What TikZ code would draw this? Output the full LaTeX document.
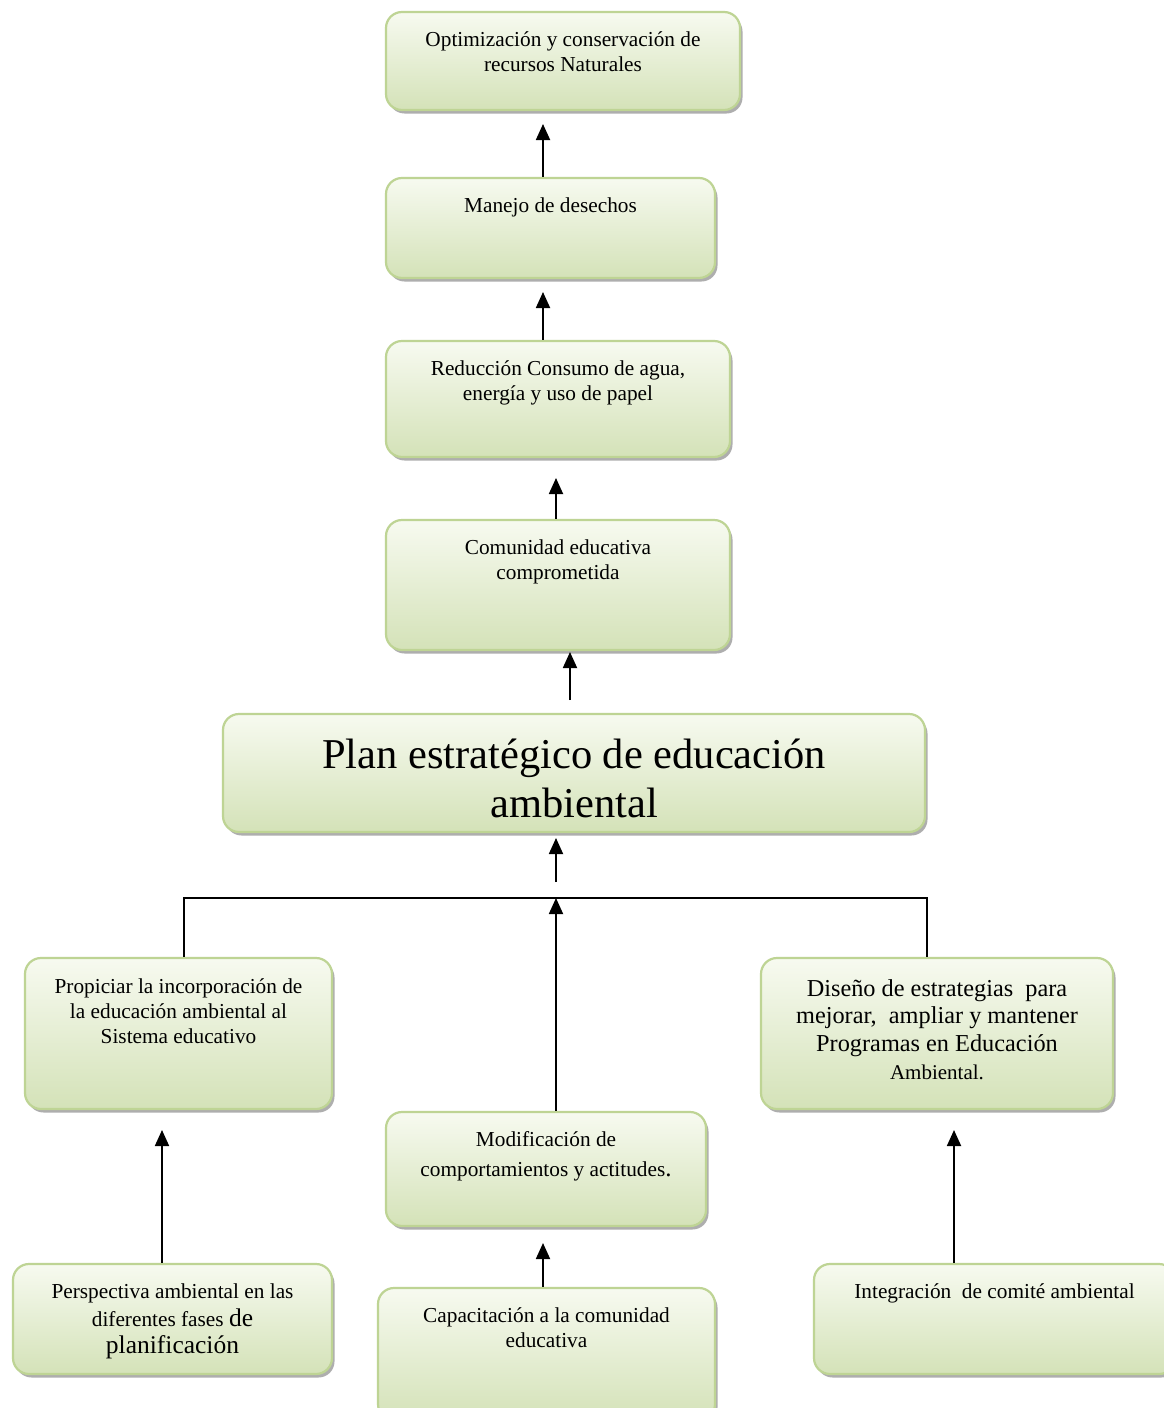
\documentclass[tikz,border=0pt]{standalone}
\usepackage{fontspec}
\setmainfont{Liberation Serif}
\usetikzlibrary{arrows.meta, shadows}

\definecolor{verdeborde}{RGB}{190,212,148}
\definecolor{verdeclaro}{RGB}{247,250,240}
\definecolor{verdeoscuro}{RGB}{212,226,184}

\tikzset{
  caja/.style={draw=verdeborde, line width=2.2pt, rounded corners=16pt,
    top color=verdeclaro, bottom color=verdeoscuro,
    drop shadow={shadow xshift=2.5pt, shadow yshift=-3.5pt, fill=black!45, opacity=.7}},
  texto/.style={anchor=north, align=center, inner sep=0pt, font=\fontsize{21.3}{24.8}\selectfont},
  flecha/.style={line width=1.8pt, -{Triangle[width=14pt,length=16pt]}},
  linea/.style={line width=1.6pt}
}

\begin{document}
\begin{tikzpicture}[x=1pt, y=-1pt]
	\useasboundingbox (0,0) rectangle (1163,1408);
	\fill[white] (0,0) rectangle (1163,1408);
	% cajas
	\node[caja, minimum width=354pt, minimum height=98pt] (opt) at (563,61) {};
	\node[caja, minimum width=329pt, minimum height=100pt] (man) at (550.5,228) {};
	\node[caja, minimum width=344pt, minimum height=116pt] (red) at (558,399) {};
	\node[caja, minimum width=344pt, minimum height=130pt] (com) at (558,585) {};
	\node[caja, minimum width=702pt, minimum height=118pt] (plan) at (574,773) {};
	\node[caja, minimum width=307pt, minimum height=151pt] (prop) at (178.5,1033.5) {};
	\node[caja, minimum width=352pt, minimum height=151pt] (dis) at (937,1033.5) {};
	\node[caja, minimum width=320pt, minimum height=114pt] (mod) at (546,1169) {};
	\node[caja, minimum width=319pt, minimum height=110pt] (per) at (172.5,1319) {};
	\node[caja, minimum width=337pt, minimum height=132pt] (cap) at (546.5,1354) {};
	\node[caja, minimum width=361pt, minimum height=110pt] (int) at (994.5,1319) {};
	% textos
	\node[texto] at ([yshift=-18.5pt]opt.north) {\strut Optimización y conservación de\\recursos Naturales};
	\node[texto] at ([yshift=-18.5pt]man.north) {\strut Manejo de desechos};
	\node[texto] at ([yshift=-18.5pt]red.north) {\strut Reducción Consumo de agua,\\energía y uso de papel};
	\node[texto] at ([yshift=-18.5pt]com.north) {\strut Comunidad educativa\\comprometida};
	\node[texto, font=\fontsize{42.5}{49}\selectfont] at ([yshift=-21pt]plan.north) {\strut Plan estratégico de educación\\ambiental};
	\node[texto] at ([yshift=-19.5pt]prop.north) {\strut Propiciar la incorporación de\\la educación ambiental al\\Sistema educativo};
	\node[texto, font=\fontsize{24.3}{27.8}\selectfont] at ([yshift=-19.5pt]dis.north) {\strut Diseño de estrategias\ \ para\\mejorar,\ \ ampliar y mantener\\Programas en Educación\\{\fontsize{21}{24}\selectfont Ambiental.}};
	\node[texto] at ([yshift=-18pt]mod.north) {\strut Modificación de\\[5pt]comportamientos y actitudes{\fontsize{25}{25}\selectfont .}};
	\node[texto] at ([yshift=-18pt]per.north) {\strut Perspectiva ambiental en las\\[2pt]diferentes fases {\fontsize{25.5}{25.5}\selectfont de}\\[2pt]{\fontsize{25.5}{25.5}\selectfont planificación}};
	\node[texto] at ([yshift=-18.5pt]cap.north) {\strut Capacitación a la comunidad\\educativa};
	\node[texto] at ([yshift=-18.5pt]int.north) {\strut Integración\ \ de comité ambiental};
	% flechas
	\coordinate (p1) at (543,124);
	\coordinate (p2) at (543,292);
	\coordinate (p3) at (556,478);
	\coordinate (q4) at (570,700);
	\coordinate (p4) at (570,652);
	\coordinate (q5) at (556,882);
	\coordinate (p5) at (556,838);
	\coordinate (bi) at (184,898);
	\coordinate (bd) at (927,898);
	\coordinate (p6) at (556,898);
	\coordinate (p7) at (162,1130);
	\coordinate (p8) at (543,1243);
	\coordinate (p9) at (954,1130);
	\draw[flecha] (p1 |- man.north) -- (p1);
	\draw[flecha] (p2 |- red.north) -- (p2);
	\draw[flecha] (p3 |- com.north) -- (p3);
	\draw[flecha] (q4) -- (p4);
	\draw[flecha] (q5) -- (p5);
	\draw[linea] (bi |- prop.north) -- (bi) -- (bd) -- (bd |- dis.north);
	\draw[flecha] (p6 |- mod.north) -- (p6);
	\draw[flecha] (p7 |- per.north) -- (p7);
	\draw[flecha] (p8 |- cap.north) -- (p8);
	\draw[flecha] (p9 |- int.north) -- (p9);
\end{tikzpicture}
\end{document}
